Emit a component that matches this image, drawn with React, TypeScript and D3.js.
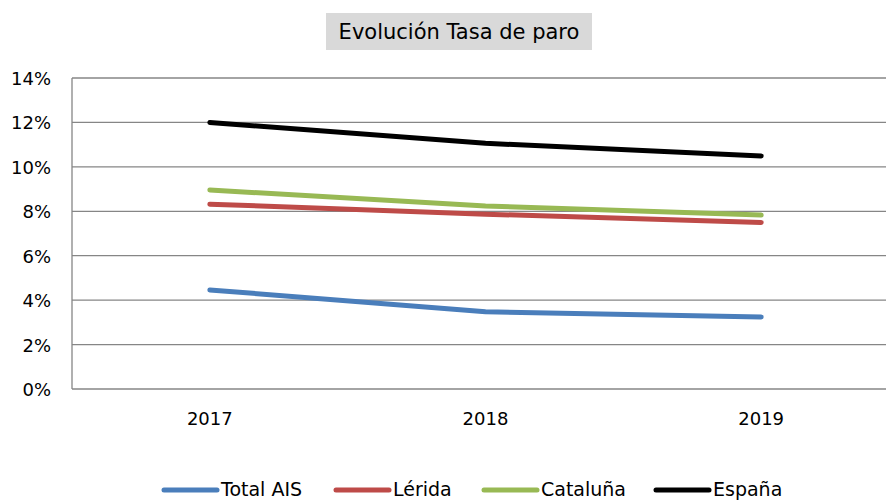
import React from "react";
import * as d3 from "d3";

const years = ["2017", "2018", "2019"];
const seriesNames = ["Total AIS", "Lérida", "Cataluña", "España"];
const totalAIS = [0.0446, 0.0348, 0.0324];
const lerida = [0.0832, 0.0787, 0.0750];
const cataluna = [0.0896, 0.0824, 0.0783];
const espana = [0.1200, 0.1106, 0.1049];
const seriesColors = ["#4a7ebb", "#be4b48", "#98b954", "#000000"];
const yTicks = [0, 0.02, 0.04, 0.06, 0.08, 0.10, 0.12, 0.14];
const title = "Evolución Tasa de paro";

export default function App() {
  const W = 886, H = 500;
  const left = 72, right = 899, top = 78, bottom = 389;
  const x = d3.scaleBand().domain(years).range([left, right]);
  const y = d3.scaleLinear().domain([0, 0.14]).range([bottom, top]);
  const allSeries = [totalAIS, lerida, cataluna, espana];
  const line = d3
    .line<number>()
    .x((_, i) => (x(years[i]) as number) + x.bandwidth() / 2)
    .y((d) => y(d));
  const font = "'DejaVu Sans', 'Open Sans', sans-serif";
  const legendX = [162, 334, 482, 654];
  return (
    <svg
      width={W}
      height={H}
      style={{ position: "absolute", left: 0, top: 0, background: "#fff" }}
      fontFamily={font}
    >
      <rect x={326} y={13} width={266} height={37} fill="#d9d9d9" />
      <text x={459} y={39} textAnchor="middle" fontSize={21} fill="#000">
        {title}
      </text>
      {yTicks.map((t) => (
        <g key={t}>
          <line x1={left} x2={W} y1={y(t)} y2={y(t)} stroke="#868686" strokeWidth={1.3} />
          <text x={51} y={y(t) + 7} textAnchor="end" fontSize={18} fill="#000">
            {d3.format(".0%")(t)}
          </text>
        </g>
      ))}
      <line x1={left} x2={left} y1={top} y2={bottom} stroke="#868686" strokeWidth={1.3} />
      {years.map((yr) => (
        <text
          key={yr}
          x={(x(yr) as number) + x.bandwidth() / 2}
          y={425}
          textAnchor="middle"
          fontSize={18}
          fill="#000"
        >
          {yr}
        </text>
      ))}
      {allSeries.map((s, i) => (
        <path
          key={i}
          d={line(s) || ""}
          fill="none"
          stroke={seriesColors[i]}
          strokeWidth={5}
          strokeLinecap="round"
          strokeLinejoin="round"
        />
      ))}
      {seriesNames.map((n, i) => (
        <g key={n}>
          <line
            x1={legendX[i] + 2}
            x2={legendX[i] + 55}
            y1={490}
            y2={490}
            stroke={seriesColors[i]}
            strokeWidth={5}
            strokeLinecap="round"
          />
          <text x={legendX[i] + 59} y={496} fontSize={19} fill="#000">
            {n}
          </text>
        </g>
      ))}
    </svg>
  );
}
